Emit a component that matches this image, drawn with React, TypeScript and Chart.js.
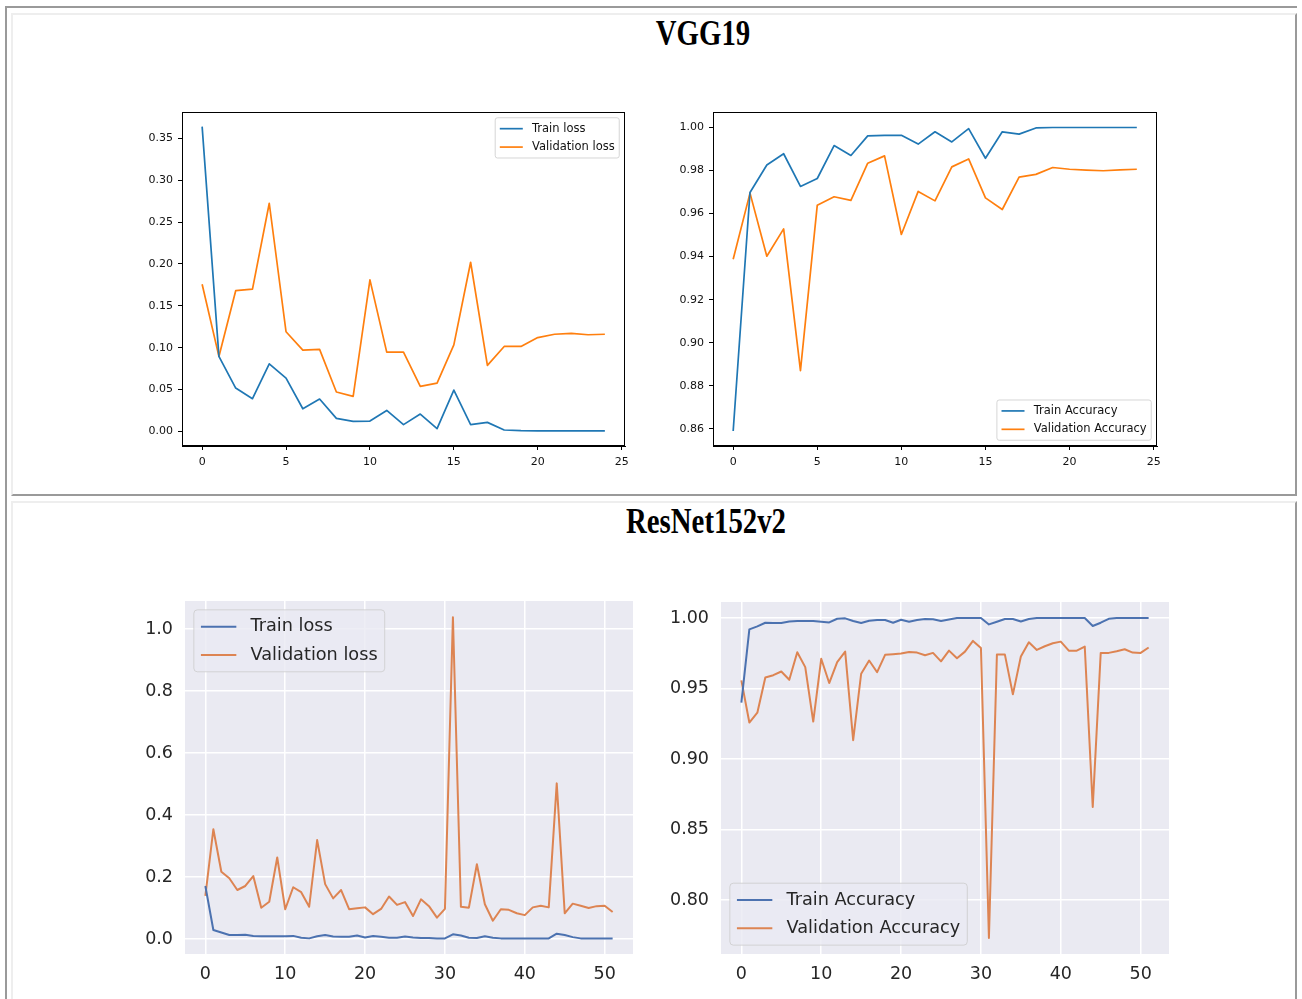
import React, { useEffect, useRef } from "react";
import { Chart, registerables } from "chart.js";

Chart.register(...registerables);

// ---------------- data ----------------
const VGG_TRAIN_LOSS = [0.364, 0.0895, 0.0517, 0.039, 0.0807, 0.0636, 0.027, 0.0386, 0.0155, 0.012, 0.0123, 0.025, 0.008, 0.0207, 0.0032, 0.0493, 0.008, 0.0107, 0.0016, 0.0008, 0.0006, 0.0005, 0.0005, 0.0005, 0.0005];
const VGG_VAL_LOSS = [0.1758, 0.0895, 0.168, 0.17, 0.2725, 0.119, 0.097, 0.0979, 0.047, 0.0418, 0.181, 0.0947, 0.0947, 0.0537, 0.0577, 0.1034, 0.202, 0.0788, 0.1014, 0.1014, 0.112, 0.116, 0.117, 0.1154, 0.116];
const VGG_TRAIN_ACC = [0.859, 0.9698, 0.9826, 0.9878, 0.9726, 0.9763, 0.9916, 0.987, 0.9961, 0.9963, 0.9964, 0.9923, 0.998, 0.9933, 0.9995, 0.9857, 0.998, 0.9969, 0.9998, 1.0, 1.0, 1.0, 1.0, 1.0, 1.0];
const VGG_VAL_ACC = [0.9388, 0.9695, 0.9402, 0.9529, 0.887, 0.9639, 0.9678, 0.9661, 0.9834, 0.9868, 0.9503, 0.9703, 0.9659, 0.9817, 0.9854, 0.9673, 0.9619, 0.9769, 0.9782, 0.9814, 0.9806, 0.9802, 0.9799, 0.9803, 0.9806];

const RES_TRAIN_LOSS = [0.171, 0.029, 0.021, 0.013, 0.013, 0.014, 0.01, 0.009, 0.009, 0.009, 0.009, 0.01, 0.004, 0.002, 0.009, 0.013, 0.008, 0.007, 0.007, 0.011, 0.005, 0.01, 0.007, 0.004, 0.004, 0.008, 0.005, 0.003, 0.003, 0.002, 0.002, 0.015, 0.011, 0.004, 0.003, 0.009, 0.004, 0.002, 0.002, 0.002, 0.002, 0.002, 0.002, 0.002, 0.017, 0.013, 0.006, 0.002, 0.002, 0.002, 0.002, 0.002];
const RES_VAL_LOSS = [0.139, 0.354, 0.217, 0.196, 0.158, 0.171, 0.203, 0.101, 0.12, 0.263, 0.096, 0.167, 0.151, 0.104, 0.319, 0.177, 0.131, 0.158, 0.096, 0.099, 0.102, 0.08, 0.097, 0.137, 0.11, 0.119, 0.074, 0.128, 0.106, 0.069, 0.097, 1.038, 0.104, 0.101, 0.241, 0.112, 0.059, 0.096, 0.094, 0.083, 0.077, 0.102, 0.107, 0.102, 0.502, 0.083, 0.114, 0.107, 0.1, 0.106, 0.107, 0.087];
const RES_TRAIN_ACC = [0.94, 0.992, 0.9941, 0.9967, 0.9965, 0.9965, 0.9976, 0.9979, 0.9979, 0.9979, 0.9974, 0.9969, 0.9995, 0.9998, 0.9979, 0.9965, 0.9981, 0.9986, 0.9986, 0.9967, 0.9988, 0.9974, 0.9986, 0.9993, 0.9991, 0.9979, 0.999, 1.0, 1.0, 1.0, 1.0, 0.9955, 0.9974, 0.9993, 0.9993, 0.9976, 0.9993, 1.0, 1.0, 1.0, 1.0, 1.0, 1.0, 1.0, 0.9944, 0.9967, 0.9995, 1.0, 1.0, 1.0, 1.0, 1.0];
const RES_VAL_ACC = [0.9558, 0.9259, 0.9329, 0.9579, 0.9595, 0.9621, 0.9562, 0.9758, 0.9652, 0.9266, 0.9711, 0.9539, 0.9687, 0.9762, 0.9134, 0.9605, 0.9699, 0.9616, 0.9739, 0.9744, 0.9748, 0.976, 0.9755, 0.9736, 0.9753, 0.9693, 0.9769, 0.9715, 0.9762, 0.9838, 0.9788, 0.773, 0.9741, 0.9741, 0.9459, 0.9727, 0.9828, 0.9774, 0.98, 0.9821, 0.9833, 0.9769, 0.9769, 0.9798, 0.866, 0.9753, 0.9753, 0.9765, 0.9779, 0.9755, 0.9753, 0.9791];

const VGG_XTICKS = [0, 5, 10, 15, 20, 25];
const VGG_LOSS_YTICKS = [0, 0.05, 0.1, 0.15, 0.2, 0.25, 0.3, 0.35];
const VGG_ACC_YTICKS = [0.86, 0.88, 0.9, 0.92, 0.94, 0.96, 0.98, 1.0];
const RES_XTICKS = [0, 10, 20, 30, 40, 50];
const RES_LOSS_YTICKS = [0, 0.2, 0.4, 0.6, 0.8, 1.0];
const RES_ACC_YTICKS = [0.8, 0.85, 0.9, 0.95, 1.0];

const TITLES = ["VGG19", "ResNet152v2"];

// ---------------- styling ----------------
const MPL_BLUE = "#1f77b4";
const MPL_ORANGE = "#ff7f0e";
const SNS_BLUE = "#4c72b0";
const SNS_ORANGE = "#dd8452";

type Theme = {
  name: "mpl" | "sns";
  tickFont: number;
  legendFs: number;
  text: string;
  lw: number;
  yW: number;
  xH: number;
  tickLen: number;
  padY: number;
  padX: number;
  face: string;
  pt: number;
  pr: number;
};

const MPL: Theme = { name: "mpl", tickFont: 11, legendFs: 11.5, text: "#111111", lw: 1.7, yW: 60, xH: 30, tickLen: 4, padY: 5, padX: 6, face: "#ffffff", pt: 14, pr: 24 };
const SNS: Theme = { name: "sns", tickFont: 17.5, legendFs: 17.7, text: "#262626", lw: 2, yW: 80, xH: 40, tickLen: 0, padY: 12, padX: 10, face: "#eaeaf2", pt: 32, pr: 30 };

type Series = { label: string; values: number[]; color: string };
type Spec = {
  rect: [number, number, number, number];
  series: Series[];
  xMin: number; xMax: number; yMin: number; yMax: number;
  xTicks: number[]; yTicks: number[]; yDigits: number;
  theme: Theme;
  legendLoc: string;
};

const legendPlugin = {
  id: "mplLegend",
  afterDatasetsDraw(chart: any, _args: any, opts: any) {
    const { ctx, chartArea: a } = chart;
    const fs: number = opts.fontSize;
    const loc: string = opts.loc;
    ctx.save();
    ctx.font = `${fs}px "DejaVu Sans"`;
    const items = chart.data.datasets.map((d: any) => ({ text: d.label, color: d.borderColor, lw: d.borderWidth }));
    const tw = Math.max(...items.map((i: any) => ctx.measureText(i.text).width));
    const rowH = fs * 1.1, gap = fs * 0.5, pad = fs * 0.4, m = fs * 0.5;
    const w = pad * 2 + fs * 2.8 + tw;
    const h = pad * 2 + rowH * items.length + gap * (items.length - 1);
    const x = loc.includes("right") ? a.right - m - w : a.left + m;
    const y = loc.includes("upper") ? a.top + m : a.bottom - m - h;
    const r = fs * 0.2;
    ctx.beginPath();
    ctx.moveTo(x + r, y);
    ctx.arcTo(x + w, y, x + w, y + h, r);
    ctx.arcTo(x + w, y + h, x, y + h, r);
    ctx.arcTo(x, y + h, x, y, r);
    ctx.arcTo(x, y, x + w, y, r);
    ctx.closePath();
    ctx.globalAlpha = 0.8;
    ctx.fillStyle = opts.face;
    ctx.fill();
    ctx.strokeStyle = "#cccccc";
    ctx.lineWidth = 1;
    ctx.stroke();
    ctx.globalAlpha = 1;
    items.forEach((it: any, i: number) => {
      const cy = y + pad + rowH / 2 + i * (rowH + gap);
      ctx.beginPath();
      ctx.strokeStyle = it.color;
      ctx.lineWidth = it.lw;
      ctx.moveTo(x + pad, cy);
      ctx.lineTo(x + pad + fs * 2, cy);
      ctx.stroke();
      ctx.fillStyle = opts.color;
      ctx.textAlign = "left";
      ctx.textBaseline = "middle";
      ctx.fillText(it.text, x + pad + fs * 2.8, cy);
    });
    ctx.restore();
  },
};

const bgPlugin = {
  id: "axesFace",
  beforeDraw(chart: any, _args: any, opts: any) {
    if (!opts.face) return;
    const { ctx, chartArea: a } = chart;
    ctx.save();
    ctx.fillStyle = opts.face;
    ctx.fillRect(a.left, a.top, a.right - a.left, a.bottom - a.top);
    ctx.restore();
  },
};

const framePlugin = {
  id: "axesFrame",
  afterDatasetsDraw(chart: any, _args: any, opts: any) {
    if (!opts.show) return;
    const { ctx, chartArea: a } = chart;
    ctx.save();
    ctx.strokeStyle = "#000";
    ctx.lineWidth = 1;
    const l = Math.round(a.left) + 0.5, t = Math.round(a.top) + 0.5;
    const rr = Math.round(a.right) - 0.5, b = Math.round(a.bottom) - 0.5;
    ctx.strokeRect(l, t, rr - l, b - t);
    ctx.restore();
  },
};

function buildConfig(spec: Spec): any {
  const th = spec.theme;
  const font = { family: '"DejaVu Sans"', size: th.tickFont };
  const isMpl = th.name === "mpl";
  const grid = isMpl
    ? { drawOnChartArea: false, drawTicks: true, tickLength: th.tickLen, color: "#000", lineWidth: 1 }
    : { drawOnChartArea: true, drawTicks: false, tickLength: 0, color: "#ffffff", lineWidth: 1.5 };
  const border = isMpl ? { display: true, color: "#000", width: 1 } : { display: false };
  return {
    type: "line",
    data: {
      datasets: spec.series.map((s) => ({
        label: s.label,
        data: s.values.map((v, i) => ({ x: i, y: v })),
        borderColor: s.color,
        backgroundColor: s.color,
        borderWidth: th.lw,
        pointRadius: 0,
        tension: 0,
        fill: false,
        borderJoinStyle: "round",
      })),
    },
    options: {
      responsive: false,
      animation: false,
      events: [],
      layout: { padding: { top: th.pt, right: th.pr, left: 0, bottom: 0 } },
      plugins: {
        legend: { display: false },
        tooltip: { enabled: false },
        title: { display: false },
        mplLegend: { loc: spec.legendLoc, fontSize: th.legendFs, face: th.face, color: th.text },
        axesFace: { face: isMpl ? null : th.face },
        axesFrame: { show: isMpl },
      },
      scales: {
        x: {
          type: "linear",
          bounds: "data",
          min: spec.xMin,
          max: spec.xMax,
          afterBuildTicks: (s: any) => { s.ticks = spec.xTicks.map((v) => ({ value: v })); },
          afterFit: (s: any) => { s.height = th.xH; },
          grid,
          border,
          ticks: { font, color: th.text, padding: th.padX, autoSkip: false, maxRotation: 0, callback: (v: number) => String(v) },
        },
        y: {
          type: "linear",
          bounds: "data",
          min: spec.yMin,
          max: spec.yMax,
          afterBuildTicks: (s: any) => { s.ticks = spec.yTicks.map((v) => ({ value: v })); },
          afterFit: (s: any) => { s.width = th.yW; },
          grid,
          border,
          ticks: { font, color: th.text, padding: th.padY, autoSkip: false, callback: (v: number) => Number(v).toFixed(spec.yDigits) },
        },
      },
    },
    plugins: [bgPlugin, framePlugin, legendPlugin],
  };
}

function PlotCanvas({ spec }: { spec: Spec }) {
  const ref = useRef<HTMLCanvasElement | null>(null);
  const [L, T, R, B] = spec.rect;
  const th = spec.theme;
  const left = L - th.yW;
  const top = T - th.pt;
  const w = R - L + th.yW + th.pr;
  const h = B - T + th.pt + th.xH;
  useEffect(() => {
    if (!ref.current) return;
    const chart = new Chart(ref.current, buildConfig(spec));
    return () => chart.destroy();
  }, []);
  return (
    <canvas
      ref={ref}
      width={w}
      height={h}
      style={{ position: "absolute", left, top, width: w, height: h }}
    />
  );
}

const SPECS: Spec[] = [
  {
    rect: [182, 112, 625, 446],
    series: [
      { label: "Train loss", values: VGG_TRAIN_LOSS, color: MPL_BLUE },
      { label: "Validation loss", values: VGG_VAL_LOSS, color: MPL_ORANGE },
    ],
    xMin: -1.2, xMax: 25.2, yMin: -0.0175, yMax: 0.3815,
    xTicks: VGG_XTICKS, yTicks: VGG_LOSS_YTICKS, yDigits: 2,
    theme: MPL, legendLoc: "upper right",
  },
  {
    rect: [713, 112, 1157, 446],
    series: [
      { label: "Train Accuracy", values: VGG_TRAIN_ACC, color: MPL_BLUE },
      { label: "Validation Accuracy", values: VGG_VAL_ACC, color: MPL_ORANGE },
    ],
    xMin: -1.2, xMax: 25.2, yMin: 0.852, yMax: 1.0072,
    xTicks: VGG_XTICKS, yTicks: VGG_ACC_YTICKS, yDigits: 2,
    theme: MPL, legendLoc: "lower right",
  },
  {
    rect: [185, 601, 633, 954],
    series: [
      { label: "Train loss", values: RES_TRAIN_LOSS, color: SNS_BLUE },
      { label: "Validation loss", values: RES_VAL_LOSS, color: SNS_ORANGE },
    ],
    xMin: -2.55, xMax: 53.55, yMin: -0.0484, yMax: 1.0903,
    xTicks: RES_XTICKS, yTicks: RES_LOSS_YTICKS, yDigits: 1,
    theme: SNS, legendLoc: "upper left",
  },
  {
    rect: [721, 602, 1169, 954],
    series: [
      { label: "Train Accuracy", values: RES_TRAIN_ACC, color: SNS_BLUE },
      { label: "Validation Accuracy", values: RES_VAL_ACC, color: SNS_ORANGE },
    ],
    xMin: -2.55, xMax: 53.55, yMin: 0.7617, yMax: 1.0114,
    xTicks: RES_XTICKS, yTicks: RES_ACC_YTICKS, yDigits: 2,
    theme: SNS, legendLoc: "lower left",
  },
];

const titleStyle = (cx: number, top: number): React.CSSProperties => ({
  position: "absolute",
  left: cx,
  top,
  transform: "translateX(-50%) scaleX(0.8)",
  fontFamily: '"Liberation Serif", "Times New Roman", serif',
  fontWeight: "bold",
  fontSize: 36,
  lineHeight: "36px",
  whiteSpace: "nowrap",
  color: "#000",
});

export default function App() {
  return (
    <div style={{ position: "absolute", left: 0, top: 0, width: 1302, height: 999, overflow: "hidden", background: "#fff" }}>
      <div style={{ position: "absolute", left: 5, top: 6, width: 1292, height: 1000, borderTop: "2px solid #9a9a9a", borderLeft: "2px solid #9a9a9a", boxSizing: "border-box" }} />
      <div style={{ position: "absolute", left: 11, top: 13, width: 1286, height: 483, borderTop: "2px solid #eeeeee", borderLeft: "2px solid #eeeeee", borderRight: "2px solid #9a9a9a", borderBottom: "2px solid #9a9a9a", boxSizing: "border-box" }} />
      <div style={{ position: "absolute", left: 11, top: 501, width: 1286, height: 520, borderTop: "2px solid #eeeeee", borderLeft: "2px solid #eeeeee", borderRight: "2px solid #9a9a9a", borderBottom: "2px solid #9a9a9a", boxSizing: "border-box" }} />
      <div style={titleStyle(703, 15)}>{TITLES[0]}</div>
      <div style={titleStyle(706, 503)}>{TITLES[1]}</div>
      {SPECS.map((s, i) => (
        <PlotCanvas key={i} spec={s} />
      ))}
    </div>
  );
}
